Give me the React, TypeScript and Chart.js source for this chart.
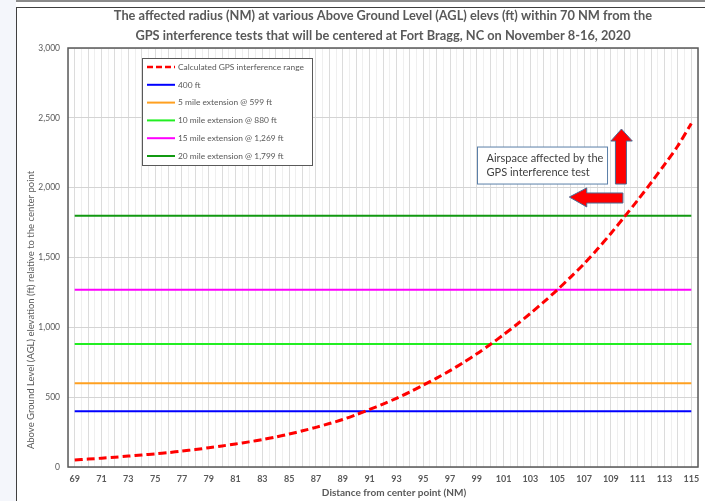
import React, { useEffect, useRef } from 'react';
import { Chart, registerables } from 'chart.js';

Chart.register(...registerables);

// ---------- data ----------
const distances = [
  69, 70, 71, 72, 73, 74, 75, 76, 77, 78, 79, 80, 81, 82, 83, 84, 85, 86, 87, 88, 89, 90,
  91, 92, 93, 94, 95, 96, 97, 98, 99, 100, 101, 102, 103, 104, 105, 106, 107, 108, 109,
  110, 111, 112, 113, 114, 115,
];
const gpsRange = [
  50, 57, 63, 70, 78, 86, 94, 103, 114, 125, 138, 151, 165, 180, 196, 215, 236, 259, 284,
  311, 340, 375, 412, 450, 492, 537, 586, 636, 690, 748, 810, 877, 948, 1022, 1100, 1182,
  1268, 1360, 1455, 1560, 1672, 1790, 1910, 2035, 2165, 2300, 2460,
];
const thresholds = [400, 599, 880, 1269, 1799];
const seriesLabels = [
  'Calculated GPS interference range',
  '400 ft',
  '5 mile extension @ 599 ft',
  '10 mile extension @ 880 ft',
  '15 mile extension @ 1,269 ft',
  '20 mile extension @ 1,799 ft',
];
const seriesColors = ['#ff0000', '#0000ff', '#ffa020', '#22ee22', '#ff00ff', '#119911'];
const xTickLabels = [
  69, 71, 73, 75, 77, 79, 81, 83, 85, 87, 89, 91, 93, 95, 97, 99, 101, 103, 105, 107, 109,
  111, 113, 115,
];
const yTickValues = [0, 500, 1000, 1500, 2000, 2500, 3000];
const titleLines = [
  'The affected radius (NM) at various Above Ground Level (AGL) elevs (ft) within 70 NM from the',
  'GPS interference tests that will be centered at Fort Bragg, NC on November 8-16, 2020',
];
const xAxisTitle = 'Distance from center point (NM)';
const yAxisTitle = 'Above Ground Level (AGL) elevation (ft) relative to the center point';
const calloutLines = ['Airspace affected by the', 'GPS interference test'];

// annotation geometry in data units (NM, ft)
const calloutBox = { x0: 99.05, x1: 108.75, y0: 2291, y1: 2026 };
const upArrow: [number, number][] = [
  [109.34, 2026], [109.34, 2334], [109.0, 2334], [109.79, 2420],
  [110.6, 2334], [110.16, 2334], [110.16, 2026],
];
const leftArrow: [number, number][] = [
  [105.9, 1933], [107.2, 1998], [107.2, 1962], [109.9, 1962],
  [109.9, 1890], [107.2, 1890], [107.2, 1862],
];

const FONT = 'Lato, "Open Sans", sans-serif';
const TEXT = '#595959';

const overlayPlugin = {
  id: 'overlay',
  afterDraw(chart: any) {
    const { ctx, chartArea: a, scales } = chart;
    const xs = scales.x;
    const ys = scales.y;
    ctx.save();

    // plot border
    ctx.strokeStyle = '#595959';
    ctx.lineWidth = 1.5;
    ctx.strokeRect(a.left, a.top, a.right - a.left, a.bottom - a.top);

    // title
    const cx = (a.left + a.right) / 2;
    ctx.fillStyle = TEXT;
    ctx.font = `bold 12.8px ${FONT}`;
    ctx.textAlign = 'center';
    ctx.textBaseline = 'middle';
    titleLines.forEach((t, i) => ctx.fillText(t, cx, 16 + i * 20));

    // x axis title
    ctx.font = `bold 10px ${FONT}`;
    ctx.fillText(xAxisTitle, cx + 11, a.bottom + 26);

    // y axis title
    ctx.save();
    ctx.translate(a.left - 37, a.top + 262);
    ctx.rotate(-Math.PI / 2);
    ctx.font = `9.5px ${FONT}`;
    ctx.fillText(yAxisTitle, 0, 0);
    ctx.restore();

    // legend
    const lx = a.left + 74;
    const ly = a.top + 10;
    const lw = 170;
    const lh = 107;
    ctx.fillStyle = '#ffffff';
    ctx.fillRect(lx, ly, lw, lh);
    ctx.strokeStyle = '#595959';
    ctx.lineWidth = 1;
    ctx.strokeRect(lx + 0.5, ly + 0.5, lw, lh);
    ctx.font = `8.4px ${FONT}`;
    ctx.textAlign = 'left';
    chart.data.datasets.forEach((ds: any, i: number) => {
      const ry = ly + 9 + i * 17.8;
      ctx.beginPath();
      ctx.strokeStyle = ds.borderColor;
      ctx.lineWidth = i === 0 ? 2.5 : 2;
      ctx.setLineDash(i === 0 ? [6, 3] : []);
      ctx.moveTo(lx + 5, ry);
      ctx.lineTo(lx + 33, ry);
      ctx.stroke();
      ctx.setLineDash([]);
      ctx.fillStyle = TEXT;
      ctx.fillText(ds.label, lx + 36, ry);
    });

    // callout box
    const bx0 = xs.getPixelForValue(calloutBox.x0);
    const bx1 = xs.getPixelForValue(calloutBox.x1);
    const by0 = ys.getPixelForValue(calloutBox.y0);
    const by1 = ys.getPixelForValue(calloutBox.y1);
    ctx.fillStyle = '#ffffff';
    ctx.fillRect(bx0, by0, bx1 - bx0, by1 - by0);
    ctx.strokeStyle = '#5a7fa8';
    ctx.lineWidth = 1;
    ctx.strokeRect(bx0, by0, bx1 - bx0, by1 - by0);
    ctx.fillStyle = '#404040';
    ctx.font = `11px ${FONT}`;
    calloutLines.forEach((t, i) => ctx.fillText(t, bx0 + 9, by0 + 11 + i * 14));

    // arrows
    const drawPoly = (pts: [number, number][]) => {
      ctx.beginPath();
      pts.forEach(([vx, vy], i) => {
        const px = xs.getPixelForValue(vx);
        const py = ys.getPixelForValue(vy);
        if (i === 0) ctx.moveTo(px, py);
        else ctx.lineTo(px, py);
      });
      ctx.closePath();
      ctx.fillStyle = '#ff0000';
      ctx.fill();
      ctx.strokeStyle = '#4a6a94';
      ctx.lineWidth = 1;
      ctx.stroke();
    };
    drawPoly(upArrow);
    drawPoly(leftArrow);

    ctx.restore();
  },
};

export default function App() {
  const canvasRef = useRef<HTMLCanvasElement | null>(null);

  useEffect(() => {
    document.body.style.margin = '0';
    const canvas = canvasRef.current;
    if (!canvas) return;

    const datasets: any[] = [
      {
        label: seriesLabels[0],
        data: distances.map((d, i) => ({ x: d, y: gpsRange[i] })),
        borderColor: seriesColors[0],
        borderWidth: 3,
        borderDash: [8, 4],
        pointRadius: 0,
        tension: 0.3,
        fill: false,
      },
      ...thresholds.map((t, k) => ({
        label: seriesLabels[k + 1],
        data: distances.map((d) => ({ x: d, y: t })),
        borderColor: seriesColors[k + 1],
        borderWidth: 2,
        pointRadius: 0,
        fill: false,
      })),
    ];

    const chart = new Chart(canvas, {
      type: 'line',
      data: { datasets },
      options: {
        animation: false,
        responsive: false,
        devicePixelRatio: 1,
        layout: { padding: { top: 48, left: 0, right: 5, bottom: 0 } },
        plugins: {
          legend: { display: false },
          title: { display: false },
          tooltip: { enabled: false },
        },
        scales: {
          x: {
            type: 'linear',
            min: 68.5,
            max: 115.5,
            afterFit: (s: any) => {
              s.height = 34;
            },
            afterBuildTicks: (s: any) => {
              const t: any[] = [];
              for (let v = 68.5; v <= 115.5; v += 0.5) t.push({ value: v });
              s.ticks = t;
            },
            ticks: {
              autoSkip: false,
              maxRotation: 0,
              padding: 7,
              color: TEXT,
              font: { family: FONT, size: 9, weight: 'bold' },
              callback: (v: any) => (xTickLabels.includes(Number(v)) ? String(v) : ''),
            },
            grid: {
              drawTicks: false,
              color: (c: any) =>
                Number.isInteger(c.tick?.value) ? '#dcdcdc' : '#efefef',
              lineWidth: 1,
            },
            border: { display: false },
          },
          y: {
            min: 0,
            max: 3000,
            afterFit: (s: any) => {
              s.width = 68;
            },
            afterBuildTicks: (s: any) => {
              s.ticks = yTickValues.map((v) => ({ value: v }));
            },
            ticks: {
              padding: 8,
              color: TEXT,
              font: { family: FONT, size: 8.5 },
              callback: (v: any) => Number(v).toLocaleString('en-US'),
            },
            grid: { drawTicks: false, color: '#d4d4d4', lineWidth: 1 },
            border: { display: false },
          },
        },
      } as any,
      plugins: [overlayPlugin],
    });

    return () => chart.destroy();
  }, []);

  return (
    <div
      style={{
        position: 'fixed',
        left: 0,
        top: 0,
        width: 705,
        height: 501,
        background: '#f4f6fb',
        overflow: 'hidden',
      }}
    >
      <div style={{ position: 'absolute', left: 16, top: 0, right: 0, height: 2, background: '#8a8a8a' }} />
      <div style={{ position: 'absolute', left: 16, top: 2, right: 0, height: 5, background: '#ffffff' }} />
      <div
        style={{
          position: 'absolute',
          left: 16,
          top: 7,
          right: 0,
          bottom: 0,
          background: '#ffffff',
          borderLeft: '1px solid #404040',
          borderTop: '1px solid #404040',
        }}
      />
      <canvas
        ref={canvasRef}
        width={705}
        height={501}
        style={{ position: 'absolute', left: 0, top: 0, width: 705, height: 501 }}
      />
    </div>
  );
}
